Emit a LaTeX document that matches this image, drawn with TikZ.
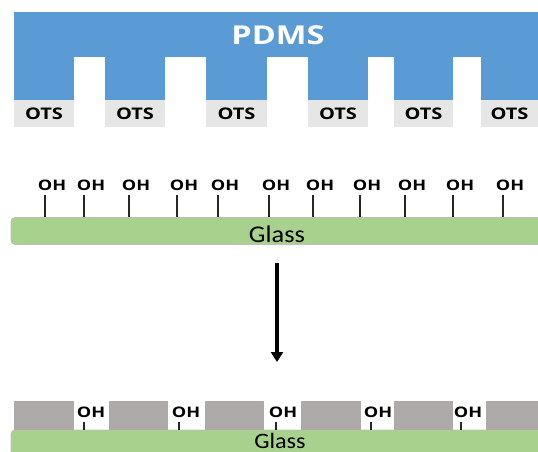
\documentclass[tikz,border=0pt]{standalone}
\usepackage{fontspec}
\setsansfont{Open Sans}[FakeStretch=1.25]
\newfontfamily\glassfont{Carlito}[FakeStretch=1.1]
\usepackage{tikz}
\usetikzlibrary{arrows.meta}

\definecolor{pdmsblue}{RGB}{91,155,213}
\definecolor{glassgreen}{RGB}{169,209,142}
\definecolor{otsgray}{RGB}{231,230,230}
\definecolor{blockgray}{RGB}{174,170,170}

\tikzset{
  otsbox/.style={fill=otsgray, minimum height=27pt, inner sep=0pt,
    font=\sffamily\bfseries\fontsize{16}{16}\selectfont},
  ohlabel/.style={inner sep=1pt, outer sep=3.5pt,
    font=\sffamily\bfseries\fontsize{14.5}{14.5}\selectfont},
  ohtick/.style={line width=1.8pt, black!85},
  glassbar/.style={fill=glassgreen, draw=black!25, line width=0.8pt,
    rounded corners=4pt, inner sep=0pt, minimum width=532pt},
  glasstext/.style={font=\glassfont\fontsize{24}{24}\selectfont, inner sep=0pt},
}

\begin{document}
\begin{tikzpicture}[x=1pt,y=-1pt]
\useasboundingbox (0,0) rectangle (538,452);

%% PDMS stamp
\fill[pdmsblue] (14,12) rectangle (538,57);
\foreach \a/\b in {14/74,105/165,206/267,308/368,394/453,481/538}
  \fill[pdmsblue] (\a,56.5) rectangle (\b,100);
\node[text=white, font=\sffamily\bfseries\fontsize{26}{26}\selectfont] (pdms) at (278,35) {PDMS};

%% OTS ink under the posts
\foreach \a/\b [count=\i] in {14/74,105/165,206/267,308/368,394/453,481/538}
  \node[otsbox, minimum width=\b-\a] (ots\i) at ({(\a+\b)/2},113.5) {OTS};

%% glass with OH groups
\node[glassbar, minimum height=27pt] (glass1) at (277,231) {};
\node[glasstext] (glasslabel1) at ([yshift=-3pt]glass1.center) {Glass};
\foreach \x [count=\i] in {45,84,129,177,218,269,313,360,405,453,503} {
  \coordinate (t\i) at (\x,0 |- glass1.north);
  \node[ohlabel] (oh\i) at (\x+7,185) {OH};
  \draw[ohtick] (oh\i.south -| t\i) -- (t\i);
}

%% arrow
\coordinate (arrowtop) at (277,263);
\coordinate (arrowbottom) at (277,362);
\draw[line width=3.5pt, -{Triangle[width=12pt,length=10pt]}] (arrowtop) -- (arrowbottom);

%% patterned glass
\node[glassbar, minimum height=30pt] (glass2) at (277,445) {};
\node[glasstext, font=\glassfont\fontsize{22}{22}\selectfont] (glasslabel2) at (280,440.5) {Glass};
\foreach \a/\b in {14/74,109/168,205/264,301/361,394/453,486/538}
  \fill[blockgray] (\a,401) rectangle (\b,430);
\foreach \x [count=\i] in {84,179,276,371,461} {
  \coordinate (b\i) at (\x,0 |- glass2.north);
  \node[ohlabel] (ohb\i) at (\x+7,412) {OH};
  \draw[ohtick, line width=1.4pt] (ohb\i.south -| b\i) -- (b\i);
}

\end{tikzpicture}
\end{document}
